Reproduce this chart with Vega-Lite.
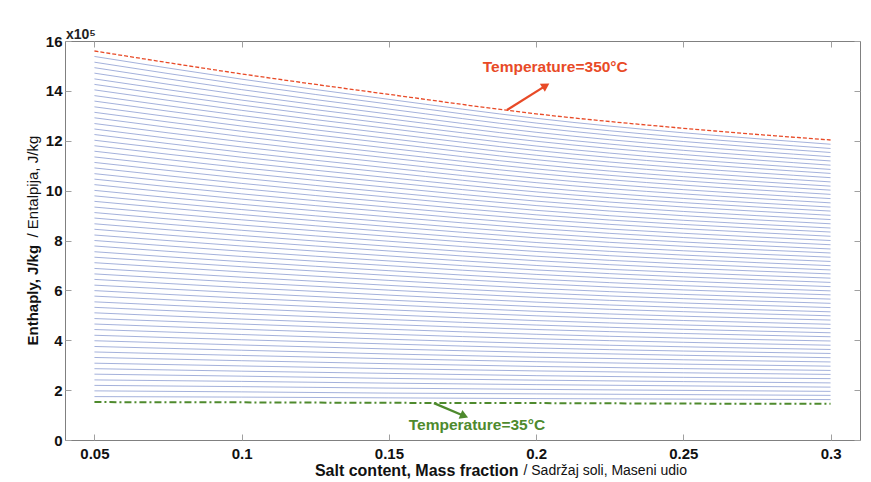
{
"$schema":"https://vega.github.io/schema/vega-lite/v6.json",
"width":795,"height":399,
"autosize":{"type":"none"},
"padding":{"left":65,"top":41,"right":11,"bottom":42},
"background":"white",
"title":{"text":"x10⁵","anchor":"start","frame":"group","orient":"top","offset":3,"baseline":"alphabetic","font":"Liberation Sans","fontSize":14,"fontWeight":"bold","color":"#222","dx":1,"dy":22},
"config":{"view":{"stroke":"#808080","strokeWidth":1},"axis":{"grid":false,"labelFont":"Liberation Sans","titleFont":"Liberation Sans","labelColor":"#111","titleColor":"#111","tickColor":"#a0a0a0","labelFlush":false,"labelOverlap":false}},
"datasets":{
"blue":[
{"t":40,"x":0.05,"y":1.74},{"t":40,"x":0.1,"y":1.72},{"t":40,"x":0.15,"y":1.69},{"t":40,"x":0.2,"y":1.66},{"t":40,"x":0.3,"y":1.62},
{"t":45,"x":0.05,"y":1.97},{"t":45,"x":0.1,"y":1.93},{"t":45,"x":0.15,"y":1.88},{"t":45,"x":0.2,"y":1.85},{"t":45,"x":0.3,"y":1.79},
{"t":50,"x":0.05,"y":2.19},{"t":50,"x":0.1,"y":2.14},{"t":50,"x":0.15,"y":2.08},{"t":50,"x":0.2,"y":2.03},{"t":50,"x":0.3,"y":1.95},
{"t":55,"x":0.05,"y":2.41},{"t":55,"x":0.1,"y":2.35},{"t":55,"x":0.15,"y":2.28},{"t":55,"x":0.2,"y":2.22},{"t":55,"x":0.3,"y":2.12},
{"t":60,"x":0.05,"y":2.64},{"t":60,"x":0.1,"y":2.56},{"t":60,"x":0.15,"y":2.47},{"t":60,"x":0.2,"y":2.40},{"t":60,"x":0.3,"y":2.29},
{"t":65,"x":0.05,"y":2.86},{"t":65,"x":0.1,"y":2.76},{"t":65,"x":0.15,"y":2.67},{"t":65,"x":0.2,"y":2.58},{"t":65,"x":0.3,"y":2.46},
{"t":70,"x":0.05,"y":3.08},{"t":70,"x":0.1,"y":2.97},{"t":70,"x":0.15,"y":2.86},{"t":70,"x":0.2,"y":2.77},{"t":70,"x":0.3,"y":2.63},
{"t":75,"x":0.05,"y":3.31},{"t":75,"x":0.1,"y":3.18},{"t":75,"x":0.15,"y":3.06},{"t":75,"x":0.2,"y":2.95},{"t":75,"x":0.3,"y":2.79},
{"t":80,"x":0.05,"y":3.53},{"t":80,"x":0.1,"y":3.39},{"t":80,"x":0.15,"y":3.26},{"t":80,"x":0.2,"y":3.14},{"t":80,"x":0.3,"y":2.96},
{"t":85,"x":0.05,"y":3.75},{"t":85,"x":0.1,"y":3.60},{"t":85,"x":0.15,"y":3.45},{"t":85,"x":0.2,"y":3.32},{"t":85,"x":0.3,"y":3.13},
{"t":90,"x":0.05,"y":3.98},{"t":90,"x":0.1,"y":3.81},{"t":90,"x":0.15,"y":3.65},{"t":90,"x":0.2,"y":3.51},{"t":90,"x":0.3,"y":3.30},
{"t":95,"x":0.05,"y":4.20},{"t":95,"x":0.1,"y":4.02},{"t":95,"x":0.15,"y":3.85},{"t":95,"x":0.2,"y":3.69},{"t":95,"x":0.3,"y":3.47},
{"t":100,"x":0.05,"y":4.43},{"t":100,"x":0.1,"y":4.23},{"t":100,"x":0.15,"y":4.04},{"t":100,"x":0.2,"y":3.87},{"t":100,"x":0.3,"y":3.63},
{"t":105,"x":0.05,"y":4.65},{"t":105,"x":0.1,"y":4.44},{"t":105,"x":0.15,"y":4.24},{"t":105,"x":0.2,"y":4.06},{"t":105,"x":0.3,"y":3.80},
{"t":110,"x":0.05,"y":4.87},{"t":110,"x":0.1,"y":4.65},{"t":110,"x":0.15,"y":4.44},{"t":110,"x":0.2,"y":4.24},{"t":110,"x":0.3,"y":3.97},
{"t":115,"x":0.05,"y":5.10},{"t":115,"x":0.1,"y":4.85},{"t":115,"x":0.15,"y":4.63},{"t":115,"x":0.2,"y":4.43},{"t":115,"x":0.3,"y":4.14},
{"t":120,"x":0.05,"y":5.32},{"t":120,"x":0.1,"y":5.06},{"t":120,"x":0.15,"y":4.83},{"t":120,"x":0.2,"y":4.61},{"t":120,"x":0.3,"y":4.30},
{"t":125,"x":0.05,"y":5.54},{"t":125,"x":0.1,"y":5.27},{"t":125,"x":0.15,"y":5.02},{"t":125,"x":0.2,"y":4.79},{"t":125,"x":0.3,"y":4.47},
{"t":130,"x":0.05,"y":5.77},{"t":130,"x":0.1,"y":5.48},{"t":130,"x":0.15,"y":5.22},{"t":130,"x":0.2,"y":4.98},{"t":130,"x":0.3,"y":4.64},
{"t":135,"x":0.05,"y":5.99},{"t":135,"x":0.1,"y":5.69},{"t":135,"x":0.15,"y":5.42},{"t":135,"x":0.2,"y":5.16},{"t":135,"x":0.3,"y":4.81},
{"t":140,"x":0.05,"y":6.21},{"t":140,"x":0.1,"y":5.90},{"t":140,"x":0.15,"y":5.61},{"t":140,"x":0.2,"y":5.35},{"t":140,"x":0.3,"y":4.98},
{"t":145,"x":0.05,"y":6.44},{"t":145,"x":0.1,"y":6.11},{"t":145,"x":0.15,"y":5.81},{"t":145,"x":0.2,"y":5.53},{"t":145,"x":0.3,"y":5.14},
{"t":150,"x":0.05,"y":6.66},{"t":150,"x":0.1,"y":6.32},{"t":150,"x":0.15,"y":6.01},{"t":150,"x":0.2,"y":5.72},{"t":150,"x":0.3,"y":5.31},
{"t":155,"x":0.05,"y":6.88},{"t":155,"x":0.1,"y":6.53},{"t":155,"x":0.15,"y":6.20},{"t":155,"x":0.2,"y":5.90},{"t":155,"x":0.3,"y":5.48},
{"t":160,"x":0.05,"y":7.11},{"t":160,"x":0.1,"y":6.74},{"t":160,"x":0.15,"y":6.40},{"t":160,"x":0.2,"y":6.08},{"t":160,"x":0.3,"y":5.65},
{"t":165,"x":0.05,"y":7.33},{"t":165,"x":0.1,"y":6.95},{"t":165,"x":0.15,"y":6.60},{"t":165,"x":0.2,"y":6.27},{"t":165,"x":0.3,"y":5.82},
{"t":170,"x":0.05,"y":7.55},{"t":170,"x":0.1,"y":7.15},{"t":170,"x":0.15,"y":6.79},{"t":170,"x":0.2,"y":6.45},{"t":170,"x":0.3,"y":5.98},
{"t":175,"x":0.05,"y":7.78},{"t":175,"x":0.1,"y":7.36},{"t":175,"x":0.15,"y":6.99},{"t":175,"x":0.2,"y":6.64},{"t":175,"x":0.3,"y":6.15},
{"t":180,"x":0.05,"y":8.00},{"t":180,"x":0.1,"y":7.57},{"t":180,"x":0.15,"y":7.18},{"t":180,"x":0.2,"y":6.82},{"t":180,"x":0.3,"y":6.32},
{"t":185,"x":0.05,"y":8.22},{"t":185,"x":0.1,"y":7.78},{"t":185,"x":0.15,"y":7.38},{"t":185,"x":0.2,"y":7.00},{"t":185,"x":0.3,"y":6.49},
{"t":190,"x":0.05,"y":8.45},{"t":190,"x":0.1,"y":7.99},{"t":190,"x":0.15,"y":7.58},{"t":190,"x":0.2,"y":7.19},{"t":190,"x":0.3,"y":6.66},
{"t":195,"x":0.05,"y":8.67},{"t":195,"x":0.1,"y":8.20},{"t":195,"x":0.15,"y":7.77},{"t":195,"x":0.2,"y":7.37},{"t":195,"x":0.3,"y":6.82},
{"t":200,"x":0.05,"y":8.90},{"t":200,"x":0.1,"y":8.41},{"t":200,"x":0.15,"y":7.97},{"t":200,"x":0.2,"y":7.56},{"t":200,"x":0.3,"y":6.99},
{"t":205,"x":0.05,"y":9.12},{"t":205,"x":0.1,"y":8.62},{"t":205,"x":0.15,"y":8.17},{"t":205,"x":0.2,"y":7.74},{"t":205,"x":0.3,"y":7.16},
{"t":210,"x":0.05,"y":9.34},{"t":210,"x":0.1,"y":8.83},{"t":210,"x":0.15,"y":8.36},{"t":210,"x":0.2,"y":7.92},{"t":210,"x":0.3,"y":7.33},
{"t":215,"x":0.05,"y":9.57},{"t":215,"x":0.1,"y":9.04},{"t":215,"x":0.15,"y":8.56},{"t":215,"x":0.2,"y":8.11},{"t":215,"x":0.3,"y":7.50},
{"t":220,"x":0.05,"y":9.79},{"t":220,"x":0.1,"y":9.24},{"t":220,"x":0.15,"y":8.75},{"t":220,"x":0.2,"y":8.29},{"t":220,"x":0.3,"y":7.66},
{"t":225,"x":0.05,"y":10.01},{"t":225,"x":0.1,"y":9.45},{"t":225,"x":0.15,"y":8.95},{"t":225,"x":0.2,"y":8.48},{"t":225,"x":0.3,"y":7.83},
{"t":230,"x":0.05,"y":10.24},{"t":230,"x":0.1,"y":9.66},{"t":230,"x":0.15,"y":9.15},{"t":230,"x":0.2,"y":8.66},{"t":230,"x":0.3,"y":8.00},
{"t":235,"x":0.05,"y":10.46},{"t":235,"x":0.1,"y":9.87},{"t":235,"x":0.15,"y":9.34},{"t":235,"x":0.2,"y":8.85},{"t":235,"x":0.3,"y":8.17},
{"t":240,"x":0.05,"y":10.68},{"t":240,"x":0.1,"y":10.08},{"t":240,"x":0.15,"y":9.54},{"t":240,"x":0.2,"y":9.03},{"t":240,"x":0.3,"y":8.34},
{"t":245,"x":0.05,"y":10.91},{"t":245,"x":0.1,"y":10.29},{"t":245,"x":0.15,"y":9.74},{"t":245,"x":0.2,"y":9.21},{"t":245,"x":0.3,"y":8.50},
{"t":250,"x":0.05,"y":11.13},{"t":250,"x":0.1,"y":10.50},{"t":250,"x":0.15,"y":9.93},{"t":250,"x":0.2,"y":9.40},{"t":250,"x":0.3,"y":8.67},
{"t":255,"x":0.05,"y":11.35},{"t":255,"x":0.1,"y":10.71},{"t":255,"x":0.15,"y":10.13},{"t":255,"x":0.2,"y":9.58},{"t":255,"x":0.3,"y":8.84},
{"t":260,"x":0.05,"y":11.58},{"t":260,"x":0.1,"y":10.92},{"t":260,"x":0.15,"y":10.33},{"t":260,"x":0.2,"y":9.77},{"t":260,"x":0.3,"y":9.01},
{"t":265,"x":0.05,"y":11.80},{"t":265,"x":0.1,"y":11.13},{"t":265,"x":0.15,"y":10.52},{"t":265,"x":0.2,"y":9.95},{"t":265,"x":0.3,"y":9.18},
{"t":270,"x":0.05,"y":12.02},{"t":270,"x":0.1,"y":11.34},{"t":270,"x":0.15,"y":10.72},{"t":270,"x":0.2,"y":10.13},{"t":270,"x":0.3,"y":9.34},
{"t":275,"x":0.05,"y":12.25},{"t":275,"x":0.1,"y":11.54},{"t":275,"x":0.15,"y":10.91},{"t":275,"x":0.2,"y":10.32},{"t":275,"x":0.3,"y":9.51},
{"t":280,"x":0.05,"y":12.47},{"t":280,"x":0.1,"y":11.75},{"t":280,"x":0.15,"y":11.11},{"t":280,"x":0.2,"y":10.50},{"t":280,"x":0.3,"y":9.68},
{"t":285,"x":0.05,"y":12.69},{"t":285,"x":0.1,"y":11.96},{"t":285,"x":0.15,"y":11.31},{"t":285,"x":0.2,"y":10.69},{"t":285,"x":0.3,"y":9.85},
{"t":290,"x":0.05,"y":12.92},{"t":290,"x":0.1,"y":12.17},{"t":290,"x":0.15,"y":11.50},{"t":290,"x":0.2,"y":10.87},{"t":290,"x":0.3,"y":10.02},
{"t":295,"x":0.05,"y":13.14},{"t":295,"x":0.1,"y":12.38},{"t":295,"x":0.15,"y":11.70},{"t":295,"x":0.2,"y":11.05},{"t":295,"x":0.3,"y":10.18},
{"t":300,"x":0.05,"y":13.36},{"t":300,"x":0.1,"y":12.59},{"t":300,"x":0.15,"y":11.90},{"t":300,"x":0.2,"y":11.24},{"t":300,"x":0.3,"y":10.35},
{"t":305,"x":0.05,"y":13.59},{"t":305,"x":0.1,"y":12.80},{"t":305,"x":0.15,"y":12.09},{"t":305,"x":0.2,"y":11.42},{"t":305,"x":0.3,"y":10.52},
{"t":310,"x":0.05,"y":13.81},{"t":310,"x":0.1,"y":13.01},{"t":310,"x":0.15,"y":12.29},{"t":310,"x":0.2,"y":11.61},{"t":310,"x":0.3,"y":10.69},
{"t":315,"x":0.05,"y":14.04},{"t":315,"x":0.1,"y":13.22},{"t":315,"x":0.15,"y":12.49},{"t":315,"x":0.2,"y":11.79},{"t":315,"x":0.3,"y":10.85},
{"t":320,"x":0.05,"y":14.26},{"t":320,"x":0.1,"y":13.43},{"t":320,"x":0.15,"y":12.68},{"t":320,"x":0.2,"y":11.98},{"t":320,"x":0.3,"y":11.02},
{"t":325,"x":0.05,"y":14.48},{"t":325,"x":0.1,"y":13.63},{"t":325,"x":0.15,"y":12.88},{"t":325,"x":0.2,"y":12.16},{"t":325,"x":0.3,"y":11.19},
{"t":330,"x":0.05,"y":14.71},{"t":330,"x":0.1,"y":13.84},{"t":330,"x":0.15,"y":13.07},{"t":330,"x":0.2,"y":12.34},{"t":330,"x":0.3,"y":11.36},
{"t":335,"x":0.05,"y":14.93},{"t":335,"x":0.1,"y":14.05},{"t":335,"x":0.15,"y":13.27},{"t":335,"x":0.2,"y":12.53},{"t":335,"x":0.3,"y":11.53},
{"t":340,"x":0.05,"y":15.15},{"t":340,"x":0.1,"y":14.26},{"t":340,"x":0.15,"y":13.47},{"t":340,"x":0.2,"y":12.71},{"t":340,"x":0.3,"y":11.69},
{"t":345,"x":0.05,"y":15.38},{"t":345,"x":0.1,"y":14.47},{"t":345,"x":0.15,"y":13.66},{"t":345,"x":0.2,"y":12.90},{"t":345,"x":0.3,"y":11.86}
],
"top":[{"x":0.05,"y":15.6},{"x":0.1,"y":14.68},{"x":0.15,"y":13.86},{"x":0.2,"y":13.08},{"x":0.25,"y":12.5},{"x":0.3,"y":12.03}],
"bottom":[{"x":0.05,"y":1.52},{"x":0.1,"y":1.51},{"x":0.15,"y":1.49},{"x":0.2,"y":1.48},{"x":0.25,"y":1.46},{"x":0.3,"y":1.45}],
"arrows":[{"a":"r","x":0.1901,"y":13.23},{"a":"r","x":0.2033,"y":14.21},{"a":"g","x":0.1653,"y":1.48},{"a":"g","x":0.1756,"y":0.962}],
"notes":[{"a":"r","label":"Temperature=350°C","x":0.2065,"y":14.96},{"a":"g","label":"Temperature=35°C","x":0.1799,"y":0.6}]
},
"layer":[
{"data":{"name":"blue"},
 "mark":{"type":"line","stroke":"#7d8fcc","strokeWidth":0.7,"interpolate":"monotone"},
 "encoding":{
  "x":{"field":"x","type":"quantitative","scale":{"domain":[0.04,0.31],"nice":false,"zero":false},
   "axis":{"orient":"bottom","values":[0.05,0.1,0.15,0.2,0.25,0.3],"format":".2~f","labelFontSize":15,"labelFontWeight":"bold","tickSize":-6,"labelPadding":12,"domain":false,
    "title":"Salt content, Mass fraction","titleFontSize":16,"titleFontWeight":"bold","titleAlign":"right","titleBaseline":"middle","titleX":453,"titleY":30}},
  "y":{"field":"y","type":"quantitative","scale":{"domain":[0,16],"nice":false,"zero":false},
   "axis":{"orient":"left","values":[0,2,4,6,8,10,12,14,16],"labelFontSize":15,"labelFontWeight":"bold","tickSize":-6,"labelPadding":9,"domain":false,
    "title":"Enthaply, J/kg","titleFontSize":15,"titleFontWeight":"bold","titleAngle":270,"titleAlign":"left","titleBaseline":"middle","titleX":-33,"titleY":304}},
  "detail":{"field":"t","type":"nominal"}}},
{"data":{"name":"top"},
 "mark":{"type":"line","stroke":"#e84a27","strokeWidth":1.3,"strokeDash":[4,2],"interpolate":"monotone"},
 "encoding":{
  "x":{"field":"x","type":"quantitative","scale":{"domain":[0.04,0.31],"nice":false,"zero":false},
   "axis":{"orient":"top","values":[0.05,0.1,0.15,0.2,0.25,0.3],"labels":false,"tickSize":-6,"domain":false,"title":null}},
  "y":{"field":"y","type":"quantitative","scale":{"domain":[0,16],"nice":false,"zero":false},
   "axis":{"orient":"right","values":[0,2,4,6,8,10,12,14,16],"labels":false,"tickSize":-6,"domain":false,"title":null}}}},
{"data":{"name":"bottom"},
 "mark":{"type":"line","stroke":"#4e8a2d","strokeWidth":2,"strokeDash":[7,3,2,3]},
 "encoding":{
  "x":{"field":"x","type":"quantitative","scale":{"domain":[0.04,0.31],"nice":false,"zero":false},
   "axis":{"orient":"bottom","labels":false,"ticks":false,"domain":false,
    "title":"/ Sadržaj soli, Maseni udio","titleFontSize":14,"titleFontWeight":"normal","titleAlign":"left","titleBaseline":"middle","titleX":458,"titleY":30}},
  "y":{"field":"y","type":"quantitative","scale":{"domain":[0,16],"nice":false,"zero":false},
   "axis":{"orient":"left","labels":false,"ticks":false,"domain":false,
    "title":"/  Entalpija, J/kg","titleFontSize":15,"titleFontWeight":"normal","titleAngle":270,"titleAlign":"left","titleBaseline":"middle","titleX":-33,"titleY":196}}}},
{"data":{"name":"arrows"},
 "mark":{"type":"line","strokeWidth":2.3},
 "encoding":{
  "x":{"field":"x","type":"quantitative","axis":null},
  "y":{"field":"y","type":"quantitative","axis":null},
  "detail":{"field":"a","type":"nominal"},
  "color":{"field":"a","type":"nominal","scale":{"domain":["r","g"],"range":["#e84a27","#4e8a2d"]},"legend":null}}},
{"data":{"name":"arrows"},
 "transform":[{"filter":"datum.a == 'r'"},{"window":[{"op":"row_number","as":"k"}]},{"filter":"datum.k == 2"}],
 "mark":{"type":"point","shape":"triangle-up","filled":true,"size":90,"angle":58,"opacity":1},
 "encoding":{
  "x":{"field":"x","type":"quantitative","axis":null},
  "y":{"field":"y","type":"quantitative","axis":null},
  "color":{"field":"a","type":"nominal","scale":{"domain":["r","g"],"range":["#e84a27","#4e8a2d"]},"legend":null}}},
{"data":{"name":"arrows"},
 "transform":[{"filter":"datum.a == 'g'"},{"window":[{"op":"row_number","as":"k"}]},{"filter":"datum.k == 2"}],
 "mark":{"type":"point","shape":"triangle-up","filled":true,"size":90,"angle":113,"opacity":1},
 "encoding":{
  "x":{"field":"x","type":"quantitative","axis":null},
  "y":{"field":"y","type":"quantitative","axis":null},
  "color":{"field":"a","type":"nominal","scale":{"domain":["r","g"],"range":["#e84a27","#4e8a2d"]},"legend":null}}},
{"data":{"name":"notes"},
 "mark":{"type":"text","font":"Liberation Sans","fontSize":15.5,"fontWeight":"bold","align":"center","baseline":"middle"},
 "encoding":{
  "x":{"field":"x","type":"quantitative","axis":null},
  "y":{"field":"y","type":"quantitative","axis":null},
  "text":{"field":"label"},
  "color":{"field":"a","type":"nominal","scale":{"domain":["r","g"],"range":["#e84a27","#4e8a2d"]},"legend":null}}}
],
"resolve":{"axis":{"x":"independent","y":"independent"}}
}
